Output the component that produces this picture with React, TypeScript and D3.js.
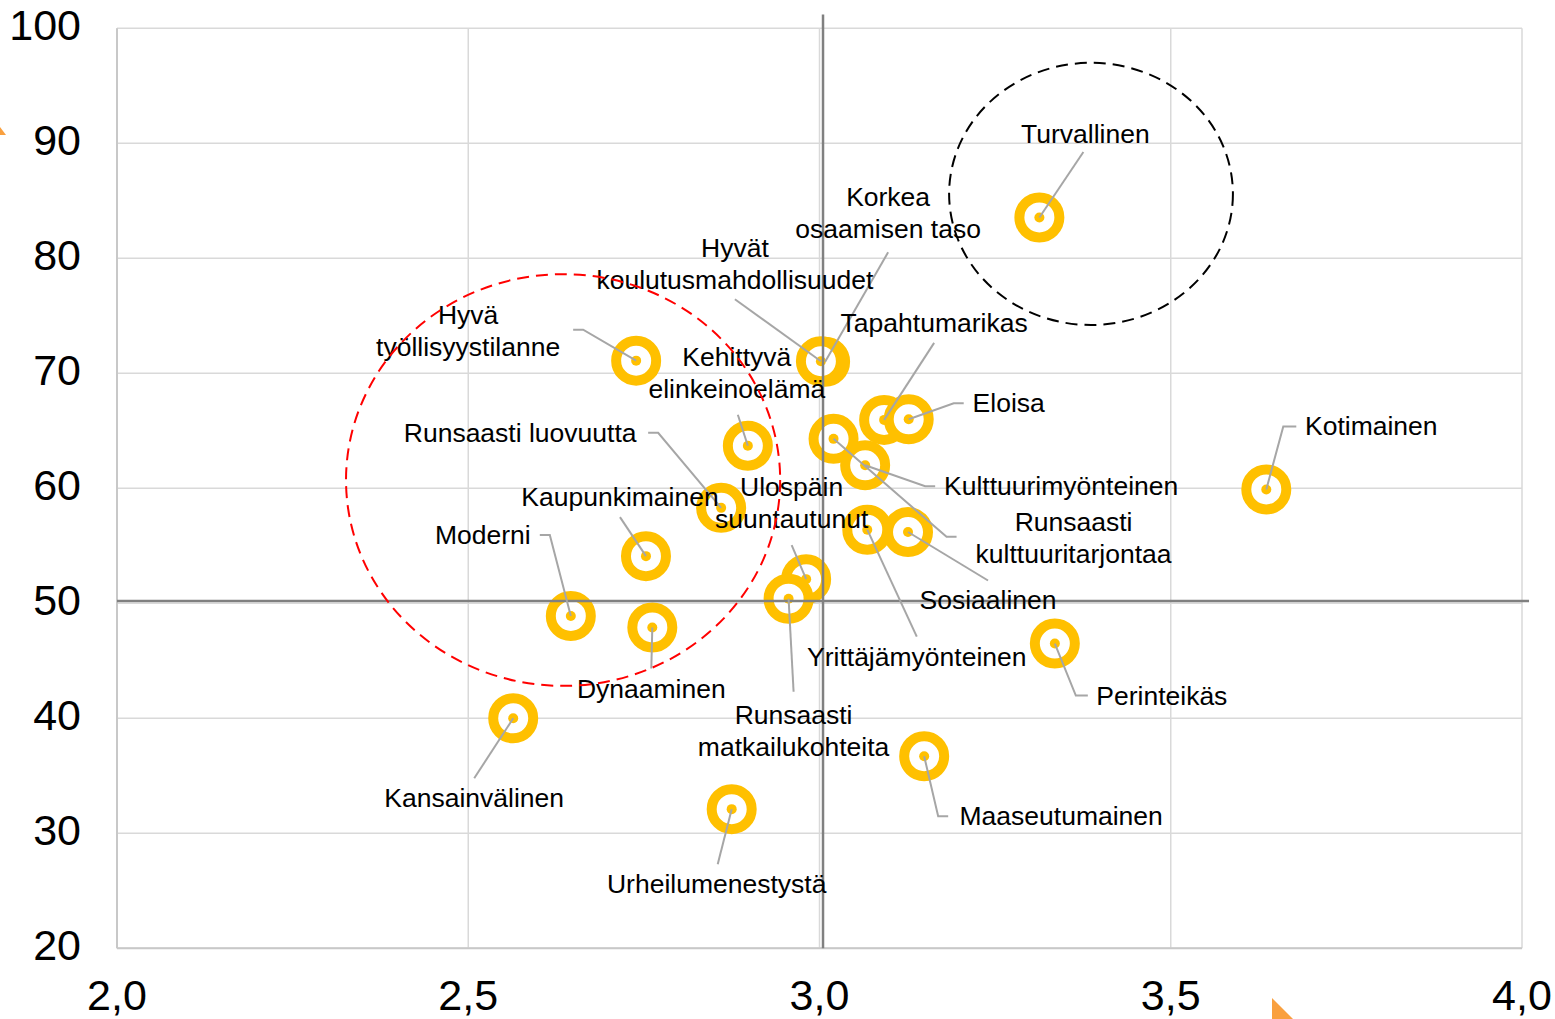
import React from "react";
import * as d3 from "d3";

const names: string[] = [
  "Turvallinen",
  "Korkea\nosaamisen taso",
  "Hyvät\nkoulutusmahdollisuudet",
  "Hyvä\ntyöllisyystilanne",
  "Kehittyvä\nelinkeinoelämä",
  "Tapahtumarikas",
  "Eloisa",
  "Kotimainen",
  "Runsaasti luovuutta",
  "Kulttuurimyönteinen",
  "Kaupunkimainen",
  "Ulospäin\nsuuntautunut",
  "Runsaasti\nkulttuuritarjontaa",
  "Moderni",
  "Sosiaalinen",
  "Yrittäjämyönteinen",
  "Perinteikäs",
  "Dynaaminen",
  "Runsaasti\nmatkailukohteita",
  "Kansainvälinen",
  "Maaseutumainen",
  "Urheilumenestystä",
];

const xValues: number[] = [
  3.313, 3.008, 3.002, 2.739, 2.898, 3.092, 3.127, 3.636, 2.86, 3.065, 2.753,
  2.981, 3.02, 2.646, 3.126, 3.068, 3.335, 2.762, 2.956, 2.564, 3.149, 2.875,
];

const yValues: number[] = [
  83.55, 71.0, 71.05, 71.1, 63.7, 65.95, 66.0, 59.9, 58.3, 62.0, 54.1, 52.1,
  64.3, 48.9, 56.2, 56.4, 46.5, 47.9, 50.4, 40.0, 36.7, 32.1,
];

// label placement relative to its point (px): text block centre, leader path points
const labelDx: number[] = [46, 63, -86, -168, -11, 50, 100, 105, -201, 196, -26, -14.5, 240, -88, 80, 49.5, 107, -1, 5, -39, 137, -15];
const labelDy: number[] = [-84, -149.5, -97.5, -30, -73, -97.5, -16.5, -63.5, -75, 20.5, -59.5, -76.5, 98.5, -81, 67.5, 127, 52, 61, 132, 79, 59.5, 74.5];
const leaderPts: [number, number][][] = [
  [[44, -65.5]],
  [[63, -109.5]],
  [[-86, -62]],
  [[-63, -31], [-53, -31]],
  [[-10, -31]],
  [[50, -77]],
  [[55, -16], [45, -16]],
  [[30, -63], [17, -63]],
  [[-73, -75], [-63, -75]],
  [[70, 21], [60, 21]],
  [[-26, -39]],
  [[-14.5, -34]],
  [[123, 98], [113, 98]],
  [[-31, -81], [-21, -81]],
  [[80, 48.5]],
  [[49.5, 107]],
  [[33, 52], [21, 52]],
  [[-1, 41]],
  [[5, 93]],
  [[-39, 60]],
  [[24, 60], [14, 60]],
  [[-14, 55]],
];

const xTicks: number[] = [2.0, 2.5, 3.0, 3.5, 4.0];
const yTicks: number[] = [20, 30, 40, 50, 60, 70, 80, 90, 100];

const refX = 3.005;
const refY = 50.2;

const ellipses = [
  { cx: 3.3865, cy: 85.6, rx: 0.202, ry: 11.4, color: "#000000" },
  { cx: 2.635, cy: 60.72, rx: 0.309, ry: 17.9, color: "#FF0000" },
];

const W = 1555;
const H = 1019;
const left = 117;
const right = 1522;
const top = 28.3;
const bottom = 948.3;

export default function App() {
  const x = d3.scaleLinear().domain([2, 4]).range([left, right]);
  const y = d3.scaleLinear().domain([20, 100]).range([bottom, top]);
  const font = "'Liberation Sans', Arial, sans-serif";
  const fmt = (v: number) => v.toFixed(1).replace(".", ",");
  const line = d3.line();

  return (
    <div style={{ position: "absolute", left: 0, top: 0 }}>
      <svg width={W} height={H} style={{ display: "block", background: "#fff" }}>
        {/* grid */}
        {yTicks.map((t) => (
          <line key={"gy" + t} x1={left} x2={right} y1={y(t)} y2={y(t)} stroke="#D9D9D9" strokeWidth={1.5} />
        ))}
        {xTicks.map((t) => (
          <line key={"gx" + t} x1={x(t)} x2={x(t)} y1={top} y2={bottom} stroke="#D9D9D9" strokeWidth={1.5} />
        ))}
        <line x1={left} x2={left} y1={top} y2={bottom} stroke="#C8C8C8" strokeWidth={2} />
        <line x1={left} x2={right} y1={bottom} y2={bottom} stroke="#C8C8C8" strokeWidth={2} />

        {/* tick labels */}
        {yTicks.map((t) => (
          <text key={"ty" + t} x={81} y={y(t) - 3} textAnchor="end" dominantBaseline="central" fontFamily={font} fontSize={43} fill="#000">
            {t}
          </text>
        ))}
        {xTicks.map((t) => (
          <text key={"tx" + t} x={x(t)} y={1010} textAnchor="middle" fontFamily={font} fontSize={43} fill="#000">
            {fmt(t)}
          </text>
        ))}

        {/* markers */}
        {xValues.map((v, i) => (
          <g key={"m" + i}>
            <circle cx={x(v)} cy={y(yValues[i])} r={20} fill="#fff" stroke="#FFC000" strokeWidth={10} />
            <circle cx={x(v)} cy={y(yValues[i])} r={5} fill="#FFC000" />
          </g>
        ))}

        {/* reference lines */}
        <line x1={x(refX)} x2={x(refX)} y1={y(101.2)} y2={bottom} stroke="#808080" strokeWidth={2.5} />
        <line x1={left} x2={x(4.01)} y1={y(refY)} y2={y(refY)} stroke="#808080" strokeWidth={2.5} />

        {/* leader lines */}
        {xValues.map((v, i) => {
          const px = x(v);
          const py = y(yValues[i]);
          const pts: [number, number][] = leaderPts[i].map(([a, b]) => [px + a, py + b]);
          pts.push([px, py]);
          return <path key={"l" + i} d={line(pts) || ""} fill="none" stroke="#A6A6A6" strokeWidth={2} />;
        })}

        {/* labels */}
        {names.map((n, i) => {
          const px = x(xValues[i]) + labelDx[i];
          const cy = y(yValues[i]) + labelDy[i];
          const lines = n.split("\n");
          const first = cy - ((lines.length - 1) * 32) / 2;
          return (
            <text key={"t" + i} textAnchor="middle" fontFamily={font} fontSize={26.5} fill="#000">
              {lines.map((s, k) => (
                <tspan key={k} x={px} y={first + k * 32 + 9.5}>
                  {s}
                </tspan>
              ))}
            </text>
          );
        })}

        {/* dashed ellipses */}
        {ellipses.map((e, i) => (
          <ellipse
            key={"e" + i}
            cx={x(e.cx)}
            cy={y(e.cy)}
            rx={x(e.cx + e.rx) - x(e.cx)}
            ry={y(e.cy - e.ry) - y(e.cy)}
            fill="none"
            stroke={e.color}
            strokeWidth={2}
            strokeDasharray="12 7"
          />
        ))}

        {/* stray orange shapes */}
        <path d="M0,127 L6,135 L0,135 Z" fill="#F9A03F" />
        <path d="M1272,998 L1293,1019 L1272,1019 Z" fill="#F9A03F" />
      </svg>
    </div>
  );
}
